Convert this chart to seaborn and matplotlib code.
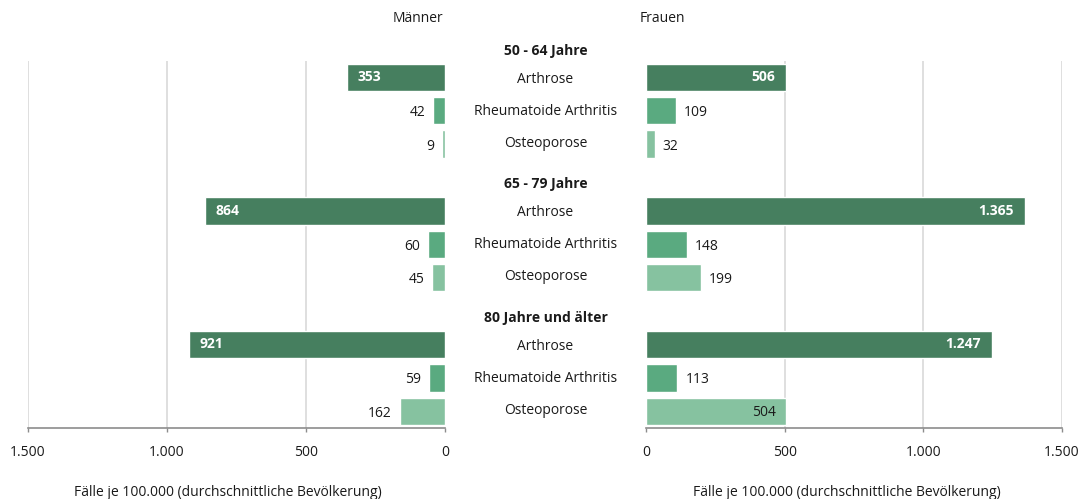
import matplotlib
matplotlib.use("Agg")
import matplotlib.pyplot as plt
import matplotlib.transforms as mtransforms
from matplotlib.ticker import FuncFormatter
import pandas as pd
import seaborn as sns

# Age groups, diseases and cases per 100,000 (average population)
altersgruppen = ["50 - 64 Jahre", "65 - 79 Jahre", "80 Jahre und älter"]
erkrankungen = ["Arthrose", "Rheumatoide Arthritis", "Osteoporose"]
maenner = [[353, 42, 9], [864, 60, 45], [921, 59, 162]]
frauen = [[506, 109, 32], [1365, 148, 199], [1247, 113, 504]]
achsen_ticks = [0, 500, 1000, 1500]
achsen_titel = "Fälle je 100.000 (durchschnittliche Bevölkerung)"

farben = {"Arthrose": "#467f5f", "Rheumatoide Arthritis": "#5aaa80", "Osteoporose": "#86c2a0"}
TEXT = "#1a1a1a"
FONT = "Open Sans"

sns.set_theme(style="white")
plt.rcParams["font.family"] = [FONT, "DejaVu Sans"]
plt.rcParams["font.size"] = 10


def de_zahl(v):
    return f"{int(round(v)):,}".replace(",", ".")


# One row per bar; each age group takes a header slot followed by three bar slots
rows = []
for g, gruppe in enumerate(altersgruppen):
    for d, krankheit in enumerate(erkrankungen):
        rows.append({
            "Altersgruppe": gruppe,
            "Erkrankung": krankheit,
            "slot": 4 * g + 1 + d,
            "Männer": maenner[g][d],
            "Frauen": frauen[g][d],
        })
df = pd.DataFrame(rows)

fig = plt.figure(figsize=(10.82, 4.99), dpi=100)
ax_m = fig.add_axes([28 / 1082, 1 - 428 / 499, 417 / 1082, 367.4 / 499])
ax_f = fig.add_axes([646 / 1082, 1 - 428 / 499, 416 / 1082, 367.4 / 499])

for ax, col in ((ax_m, "Männer"), (ax_f, "Frauen")):
    sns.barplot(data=df, x=col, y="slot", hue="Erkrankung", palette=farben,
                orient="h", native_scale=True, dodge=False, width=0.82,
                saturation=1, errorbar=None, legend=False, ax=ax, zorder=3)
    ax.set_ylim(11.5, 0.5)
    ax.set_yticks([])
    ax.set_ylabel("")
    ax.set_xticks(achsen_ticks)
    ax.xaxis.set_major_formatter(FuncFormatter(lambda v, p: de_zahl(v)))
    ax.tick_params(axis="x", bottom=True, length=3, width=1, color="#8c8c8c",
                   pad=9.5, labelsize=10, labelcolor=TEXT)
    for s in ("top", "left", "right"):
        ax.spines[s].set_visible(False)
    ax.spines["bottom"].set_color("#8c8c8c")
    ax.spines["bottom"].set_linewidth(1.2)
    ax.grid(axis="x", color="#d9d9d9", linewidth=1.2)
    ax.get_xgridlines()[0].set_visible(False)
    ax.set_axisbelow(True)
    ax.set_xlabel(achsen_titel, fontsize=10, color=TEXT)

ax_m.set_xlim(1500, 0)
ax_f.set_xlim(0, 1500)
ax_m.xaxis.set_label_coords(0.48, -0.155)
ax_f.xaxis.set_label_coords(0.483, -0.155)

# Value labels: large bars carry their value inside, small ones beside the bar end
px = mtransforms.ScaledTranslation
for ax, col, sign in ((ax_m, "Männer", -1), (ax_f, "Frauen", 1)):
    for _, r in df.iterrows():
        v = r[col]
        if r["Erkrankung"] == "Arthrose":
            off = px(-sign * 11 / 100, 0, fig.dpi_scale_trans)
            ax.text(v, r["slot"], de_zahl(v), transform=ax.transData + off,
                    ha="left" if sign < 0 else "right", va="center",
                    color="white", fontweight="bold", fontsize=10)
        elif v >= 400:
            off = px(-sign * 10 / 100, -1.5 / 100, fig.dpi_scale_trans)
            ax.text(v, r["slot"], de_zahl(v), transform=ax.transData + off,
                    ha="left" if sign < 0 else "right", va="center",
                    color=TEXT, fontsize=10)
        else:
            off = px(sign * 8 / 100, -2 / 100, fig.dpi_scale_trans)
            ax.text(v, r["slot"], de_zahl(v), transform=ax.transData + off,
                    ha="right" if sign < 0 else "left", va="center",
                    color=TEXT, fontsize=10)

# Category labels and age group headers in the centre column
mitte = mtransforms.blended_transform_factory(fig.transFigure, ax_m.transData)
xc = 545.5 / 1082
label_shift = {"Arthrose": 0.06, "Rheumatoide Arthritis": 0.02, "Osteoporose": -0.03}
for _, r in df.iterrows():
    fig.text(xc, r["slot"] + label_shift[r["Erkrankung"]], r["Erkrankung"],
             transform=mitte, ha="center", va="center", color=TEXT, fontsize=10)
for g, gruppe in enumerate(altersgruppen):
    fig.text(xc, 4 * g + 0.2, gruppe, transform=mitte, ha="center",
             va="center", color=TEXT, fontsize=10, fontweight="bold")

# Panel titles
fig.text(443 / 1082, 1 - 18 / 499, "Männer", ha="right", va="center",
         color=TEXT, fontsize=10)
fig.text(640 / 1082, 1 - 18 / 499, "Frauen", ha="left", va="center",
         color=TEXT, fontsize=10)

fig.savefig("out.png", dpi=100, facecolor="white")
